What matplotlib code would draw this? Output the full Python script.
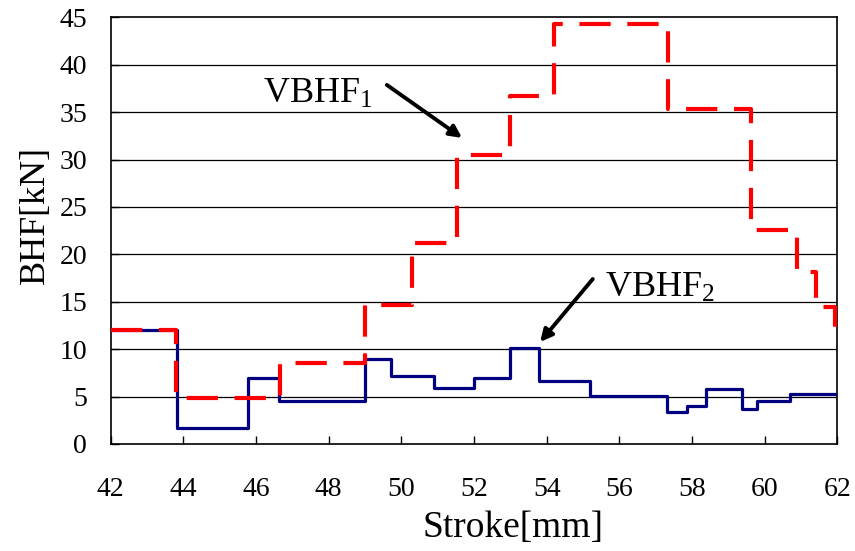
import matplotlib
matplotlib.use("Agg")
import matplotlib.pyplot as plt

plt.rcParams['font.family'] = ['Liberation Serif', 'DejaVu Serif']
plt.rcParams['mathtext.fontset'] = 'custom'
plt.rcParams['mathtext.rm'] = 'Liberation Serif'
plt.rcParams['mathtext.it'] = 'Liberation Serif:italic'

# Data (step edges, values held until next edge)
vbhf2_x = [42, 43.82, 45.77, 46.64, 49.0, 49.71, 50.9, 52.0, 53.0, 53.8,
           55.2, 57.3, 57.87, 58.39, 59.38, 59.78, 60.7, 62]
vbhf2_y = [12, 1.7, 7.0, 4.5, 9.0, 7.2, 5.9, 7.0, 10.1, 6.6,
           5.1, 3.4, 4.0, 5.8, 3.7, 4.5, 5.3, 5.3]

vbhf1_x = [42, 43.8, 46.66, 49.0, 50.28, 51.52, 53.0, 54.2, 57.33, 59.62,
           60.9, 61.41, 61.95, 62]
vbhf1_y = [12, 4.9, 8.5, 14.7, 21.2, 30.5, 36.7, 44.3, 35.3, 22.6,
           18.1, 14.5, 11.5, 11.5]

x_ticks = [42, 44, 46, 48, 50, 52, 54, 56, 58, 60, 62]
y_ticks = [0, 5, 10, 15, 20, 25, 30, 35, 40, 45]

fig = plt.figure(figsize=(8.55, 5.51), dpi=100)
ax = fig.add_axes([0.1295, 0.1942, 0.8498, 0.7744])

for y in y_ticks[1:-1]:
    ax.axhline(y, color='black', lw=0.9, zorder=1)

ax.step(vbhf2_x, vbhf2_y, where='post', color='#000080', lw=2.3, zorder=3)
ax.step(vbhf1_x, vbhf1_y, where='post', color='#ff0000', lw=3.0,
        linestyle=(0, (7.5, 4.0)), zorder=4)

ax.set_xlim(42, 62)
ax.set_ylim(0, 45)
ax.set_xticks(x_ticks)
ax.set_yticks(y_ticks)
ax.tick_params(axis='x', direction='in', length=6, width=1, pad=24, labelsize=20)
ax.tick_params(axis='y', direction='in', length=6, width=1, pad=17, labelsize=20)
for s in ax.spines.values():
    s.set_linewidth(1.2)

fig.text(513 / 855, 1 - 528 / 551, 'Stroke[mm]', fontsize=27, ha='center', va='center')
fig.text(35 / 855, 1 - 215 / 551, 'BHF[kN]', fontsize=26, ha='center', va='center',
         rotation=90)

arrow_props = dict(arrowstyle='-|>', color='black', lw=2.8,
                   mutation_scale=18, shrinkA=0, shrinkB=0)

ax.text(46.19, 35.97, r'VBHF$_{\mathrm{1}}$', fontsize=26, ha='left', va='baseline', zorder=6)
ax.annotate('', xy=(51.67, 32.28), xytext=(49.6, 37.87),
            arrowprops=arrow_props, zorder=6)

ax.text(55.6, 15.5, r'VBHF$_{\mathrm{2}}$', fontsize=26, ha='left', va='baseline', zorder=6)
ax.annotate('', xy=(53.82, 10.76), xytext=(55.27, 17.4),
            arrowprops=arrow_props, zorder=6)

fig.savefig('out.png', dpi=100)
